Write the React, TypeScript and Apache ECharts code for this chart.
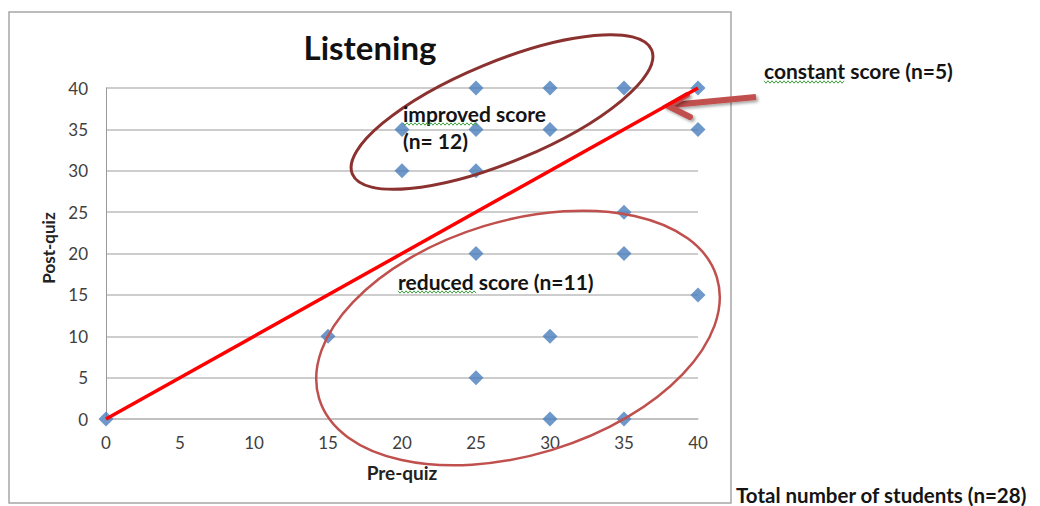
import React, { useEffect, useRef } from "react";
import * as echarts from "echarts";

const preQuiz = [0, 15, 20, 20, 25, 25, 25, 25, 25, 30, 30, 30, 30, 35, 35, 35, 35, 40, 40, 40];
const postQuiz = [0, 10, 35, 30, 40, 35, 30, 20, 5, 40, 35, 10, 0, 40, 25, 20, 0, 40, 35, 15];
const equalLine = [
  [0, 0],
  [40, 40],
];
const titleText = "Listening";
const xName = "Pre-quiz";
const yName = "Post-quiz";
const notes = {
  improved1: "improved score",
  improved2: "(n= 12)",
  reduced: "reduced score (n=11)",
  constant: "constant score (n=5)",
  total: "Total number of students (n=28)",
};

const FONT = "Lato, 'Open Sans', sans-serif";

function squiggle(x0: number, x1: number, y: number) {
  const pts: number[][] = [];
  let up = true;
  for (let x = x0; x <= x1; x += 2) {
    pts.push([x, y + (up ? -1.2 : 1.2)]);
    up = !up;
  }
  return {
    type: "polyline",
    shape: { points: pts },
    style: { stroke: "#3f9f3f", lineWidth: 1, fill: null },
    z: 20,
  };
}

export default function App() {
  const ref = useRef<HTMLDivElement>(null);
  useEffect(() => {
    if (!ref.current) return;
    const chart = echarts.init(ref.current, null, { renderer: "svg" });
    const scatterData = preQuiz.map((x, i) => [x, postQuiz[i]]);
    const noteStyle = { fill: "#141414", fontSize: 21, fontWeight: "bold", fontFamily: FONT };
    chart.setOption({
      animation: false,
      backgroundColor: "#ffffff",
      grid: { left: 106, top: 88, right: 342, bottom: 87 },
      xAxis: {
        type: "value",
        min: 0,
        max: 40,
        interval: 5,
        name: xName,
        nameLocation: "middle",
        nameGap: 44,
        nameTextStyle: { fontFamily: FONT, fontWeight: "bold", fontSize: 19, color: "#222" },
        axisLine: { show: true, lineStyle: { color: "#bdbdbd", width: 1.5 } },
        axisTick: { show: false },
        splitLine: { show: false },
        axisLabel: { margin: 15, color: "#404040", fontSize: 17, fontFamily: FONT },
      },
      yAxis: {
        type: "value",
        min: 0,
        max: 40,
        interval: 5,
        axisLine: { show: true, lineStyle: { color: "#9a9a9a", width: 1 } },
        axisTick: { show: false },
        splitLine: { show: true, lineStyle: { color: "#bdbdbd", width: 1.5 } },
        axisLabel: { margin: 18, color: "#404040", fontSize: 17, fontFamily: FONT },
      },
      series: [
        {
          type: "scatter",
          data: scatterData,
          symbol: "diamond",
          symbolSize: 15,
          itemStyle: { color: "#4a7ebb" },
          z: 2,
        },
        {
          type: "line",
          data: equalLine,
          symbol: "none",
          lineStyle: { color: "#ff0000", width: 3.5 },
          z: 3,
        },
      ],
      graphic: [
        {
          type: "rect",
          shape: { x: 9, y: 12, width: 722, height: 491 },
          style: { fill: null, stroke: "#a6a6a6", lineWidth: 1.5 },
          z: 0,
        },
        {
          type: "text",
          x: 370,
          y: 47,
          style: {
            text: titleText,
            fontSize: 33,
            fontWeight: "bold",
            fontFamily: FONT,
            fill: "#111",
            textAlign: "center",
            textVerticalAlign: "middle",
          },
        },
        {
          type: "text",
          x: 48,
          y: 248,
          rotation: Math.PI / 2,
          style: {
            text: yName,
            fontSize: 17,
            fontWeight: "bold",
            fontFamily: FONT,
            fill: "#222",
            textAlign: "center",
            textVerticalAlign: "middle",
          },
        },
        {
          type: "ellipse",
          x: 502,
          y: 112,
          rotation: (22.5 * Math.PI) / 180,
          shape: { cx: 0, cy: 0, rx: 162, ry: 50 },
          style: { fill: null, stroke: "#8b3230", lineWidth: 3 },
          z: 10,
        },
        {
          type: "ellipse",
          x: 518,
          y: 338,
          rotation: (17 * Math.PI) / 180,
          shape: { cx: 0, cy: 0, rx: 208, ry: 117 },
          style: { fill: null, stroke: "#c0504d", lineWidth: 2.5 },
          z: 10,
        },
        {
          type: "text",
          x: 403,
          y: 113,
          style: { ...noteStyle, text: notes.improved1, textVerticalAlign: "middle" },
          z: 15,
        },
        {
          type: "text",
          x: 403,
          y: 140,
          style: { ...noteStyle, text: notes.improved2, textVerticalAlign: "middle" },
          z: 15,
        },
        {
          type: "text",
          x: 398,
          y: 281,
          style: { ...noteStyle, text: notes.reduced, textVerticalAlign: "middle" },
          z: 15,
        },
        {
          type: "text",
          x: 764,
          y: 70,
          style: { ...noteStyle, text: notes.constant, textVerticalAlign: "middle" },
          z: 15,
        },
        {
          type: "text",
          x: 736,
          y: 495,
          style: { ...noteStyle, fontSize: 20.5, text: notes.total, textVerticalAlign: "middle" },
          z: 15,
        },
        squiggle(403, 477, 124),
        squiggle(398, 477, 292),
        squiggle(764, 845, 82),
        {
          type: "group",
          z: 30,
          children: [
            {
              type: "polyline",
              shape: {
                points: [
                  [756, 97],
                  [672, 105],
                ],
              },
              style: {
                stroke: "#c0504d",
                lineWidth: 6,
                fill: null,
                lineCap: "butt",
                shadowBlur: 3,
                shadowColor: "rgba(0,0,0,0.35)",
                shadowOffsetX: 2,
                shadowOffsetY: 2,
              },
            },
            {
              type: "polyline",
              shape: {
                points: [
                  [687, 95],
                  [668, 106],
                  [690, 117],
                ],
              },
              style: {
                stroke: "#c0504d",
                lineWidth: 6,
                fill: null,
                lineJoin: "miter",
                lineCap: "round",
                shadowBlur: 3,
                shadowColor: "rgba(0,0,0,0.35)",
                shadowOffsetX: 2,
                shadowOffsetY: 2,
              },
            },
          ],
        },
      ],
    });
    return () => chart.dispose();
  }, []);
  return (
    <div
      ref={ref}
      style={{ position: "absolute", left: 0, top: 0, width: 1040, height: 506 }}
    />
  );
}
